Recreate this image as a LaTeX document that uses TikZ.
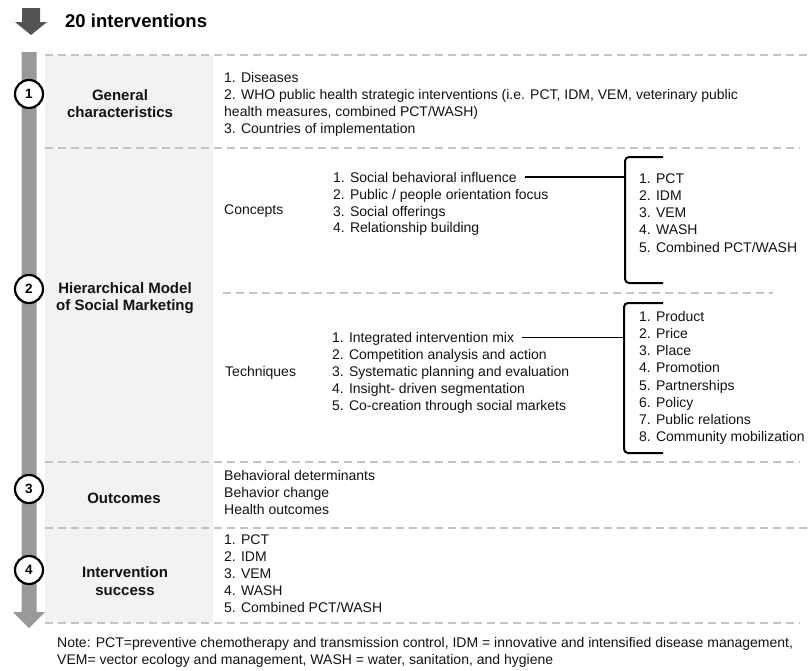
\documentclass[tikz,border=0pt]{standalone}
\usepackage{fontspec}
\setmainfont{Liberation Sans}
\begin{document}
\begin{tikzpicture}[x=1pt,y=-1pt,
  lst/.style={anchor=base west,inner sep=0pt,font=\fontsize{14}{17}\selectfont,text=black!93},
  lbl/.style={align=center,inner sep=0pt,font=\fontsize{15}{17.5}\selectfont\bfseries,text=black!93},
  dashln/.style={draw=black!23,line width=1.6pt,dash pattern=on 8pt off 5pt},
  numc/.style={circle,draw=black,fill=white,line width=2.2pt,minimum size=28pt,inner sep=0pt,font=\fontsize{13.5}{15}\selectfont\bfseries},
  brk/.style={draw=black,line width=2pt,rounded corners=4pt},
  conn/.style={draw=black,line width=1.6pt}]
\useasboundingbox (0,0) rectangle (809,670);
% panel
\fill[black!5] (45,55) rectangle (213,623);
% dashed separators
\draw[dashln] (45,55) -- (809,55);
\draw[dashln] (45,148) -- (800,148);
\draw[dashln] (223,293) -- (773,293);
\draw[dashln] (45,462) -- (800,462);
\draw[dashln] (45,528) -- (809,528);
\draw[dashln] (45,623) -- (800,623);
% top arrow and title
\fill[black!67] (22,8) -- (40,8) -- (40,22) -- (47,22) -- (31,35) -- (15,22) -- (22,22) -- cycle;
\node[anchor=base west,inner sep=0pt,font=\fontsize{18.5}{20}\selectfont\bfseries] (title) at (65,27.5) {20 interventions};
% vertical bar arrow
\fill[black!40] (21.5,52) -- (36.5,52) -- (36.5,612) -- (45,612) -- (29,628) -- (13,612) -- (21.5,612) -- cycle;
% numbered circles
\node[numc] (n1) at (29,94) {1};
\node[numc] (n2) at (29,289) {2};
\node[numc] (n3) at (29,489) {3};
\node[numc] (n4) at (29,570) {4};
% section labels
\node[lbl] (l1) at (120,103.5) {General\\characteristics};
\node[lbl] (l2) at (125,298) {Hierarchical Model\\of Social Marketing};
\node[lbl] (l3) at (124,498) {Outcomes};
\node[lbl] (l4) at (125,581) {Intervention\\success};
% row 1
\foreach \t [count=\i] in {{1. Diseases},{2. WHO public health strategic interventions (i.e. PCT, IDM, VEM, veterinary public},{health measures, combined PCT/WASH)},{3. Countries of implementation}}
  \node[lst] (g\i) at (224,{82+17*(\i-1)}) {\t};
% concepts
\node[lst] (concepts) at (224,214) {Concepts};
\foreach \t [count=\i] in {{1. Social behavioral influence},{2. Public / people orientation focus},{3. Social offerings},{4. Relationship building}}
  \node[lst] (c\i) at (333,{182.5+16.8*(\i-1)}) {\t};
\coordinate (b1t) at (663,157);
\coordinate (b1b) at (663,283);
\coordinate (b1m) at (625,177);
\draw[brk] (b1t) -- (625,157) -- (625,283) -- (b1b);
\draw[conn] ([xshift=8pt]c1.east |- b1m) -- (b1m);
\foreach \t [count=\i] in {{1. PCT},{2. IDM},{3. VEM},{4. WASH},{5. Combined PCT/WASH}}
  \node[lst] (p\i) at (639,{183+17.3*(\i-1)}) {\t};
% techniques
\node[lst] (techniques) at (225,376) {Techniques};
\foreach \t [count=\i] in {{1. Integrated intervention mix},{2. Competition analysis and action},{3. Systematic planning and evaluation},{4. Insight- driven segmentation},{5. Co-creation through social markets}}
  \node[lst] (t\i) at (332,{342.5+16.9*(\i-1)}) {\t};
\coordinate (b2t) at (663,303);
\coordinate (b2b) at (663,453);
\coordinate (b2m) at (624,337.5);
\draw[brk] (b2t) -- (624,303) -- (624,453) -- (b2b);
\draw[conn] ([xshift=8pt]t1.east |- b2m) -- (b2m);
\foreach \t [count=\i] in {{1. Product},{2. Price},{3. Place},{4. Promotion},{5. Partnerships},{6. Policy},{7. Public relations},{8. Community mobilization}}
  \node[lst] (m\i) at (639,{321.5+17.15*(\i-1)}) {\t};
% outcomes
\foreach \t [count=\i] in {{Behavioral determinants},{Behavior change},{Health outcomes}}
  \node[lst] (o\i) at (224,{480.5+17*(\i-1)}) {\t};
% intervention success
\foreach \t [count=\i] in {{1. PCT},{2. IDM},{3. VEM},{4. WASH},{5. Combined PCT/WASH}}
  \node[lst] (s\i) at (224,{544.5+17*(\i-1)}) {\t};
% note
\node[lst] (note1) at (57,647) {Note: PCT=preventive chemotherapy and transmission control, IDM = innovative and intensified disease management,};
\node[lst] (note2) at (57,664) {VEM= vector ecology and management, WASH = water, sanitation, and hygiene};
\end{tikzpicture}
\end{document}
